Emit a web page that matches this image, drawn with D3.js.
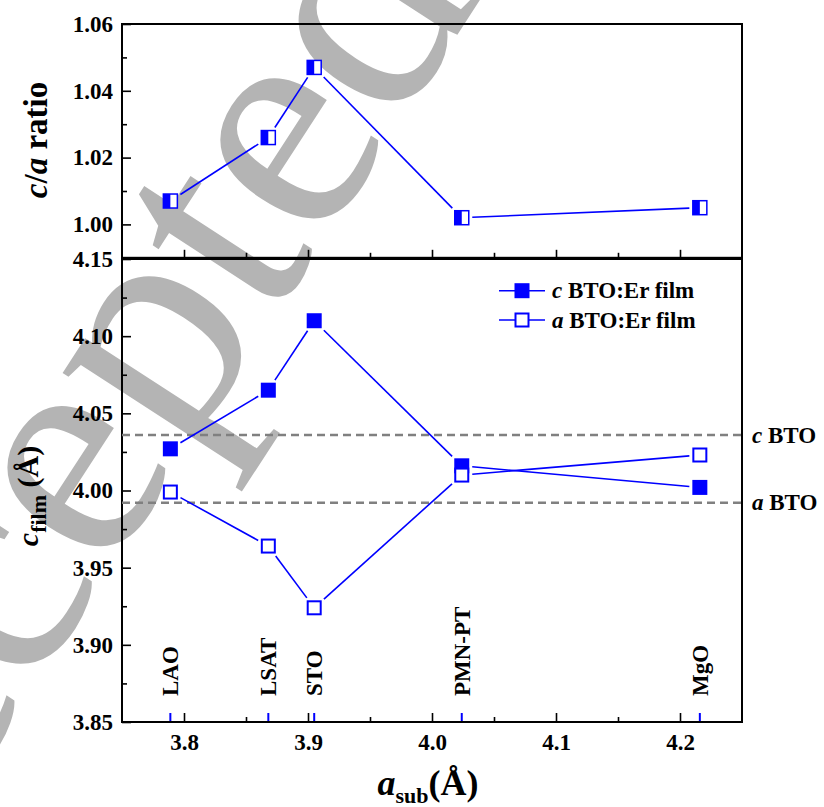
<!DOCTYPE html>
<html>
<head>
<meta charset="utf-8">
<script src="https://d3js.org/d3.v7.min.js"></script>
<style>
  body { margin: 0; background: #fff; }
  svg text { font-family: "Liberation Serif", "Times New Roman", Times, serif; font-weight: bold; }
</style>
</head>
<body>
<script>
// substrates and their in-plane lattice parameter (Å)
var substrates = ["LAO", "LSAT", "STO", "PMN-PT", "MgO"];
var aSub = [3.789, 3.868, 3.905, 4.024, 4.216];

// film lattice parameters (Å) and c/a ratio
var cFilm = [4.027, 4.065, 4.110, 4.016, 4.002];
var aFilm = [3.999, 3.964, 3.924, 4.010, 4.023];
var caRatio = [1.007, 1.026, 1.047, 1.002, 1.005];

// bulk BTO reference lines
var bulkLabels = ["c", "a"];
var bulkValues = [4.036, 3.992];

var xTicks = [3.8, 3.9, 4.0, 4.1, 4.2];
var xMinor = [3.85, 3.95, 4.05, 4.15];
var topTicks = [1.00, 1.02, 1.04, 1.06];
var topMinor = [1.01, 1.03, 1.05];
var botTicks = [3.85, 3.90, 3.95, 4.00, 4.05, 4.10, 4.15];
var botMinor = [3.875, 3.925, 3.975, 4.025, 4.075, 4.125];

var W = 824, H = 807;
var blue = "#0000ff";

var svg = d3.select("body").append("svg")
    .attr("width", W)
    .attr("height", H)
    .attr("font-family", "Liberation Serif, Times New Roman, serif");

// watermark of the source page
svg.append("text")
    .attr("transform", "translate(-176,1010) rotate(-57)")
    .style("font-weight", "normal")
    .attr("font-size", 320)
    .attr("fill", "#b4b4b4")
    .text("Accepted Manuscript");

var x = d3.scaleLinear().domain([3.75, 4.25]).range([122, 742]);
var yTop = d3.scaleLinear().domain([0.99, 1.06]).range([257.8, 24]);
var yBot = d3.scaleLinear().domain([3.85, 4.15]).range([722, 259]);

function styleAxis(g) {
  g.attr("font-family", null).attr("font-size", null);
  g.select(".domain").remove();
  g.selectAll("line").attr("stroke", "#000").attr("stroke-width", 1.6);
  g.selectAll("text").attr("font-size", 23).attr("fill", "#000");
}

// top panel axes
svg.append("g").attr("transform", "translate(122,0)")
  .call(d3.axisLeft(yTop).tickValues(topTicks).tickSize(-9).tickPadding(9).tickFormat(d3.format(".2f")))
  .call(styleAxis);
svg.append("g").attr("transform", "translate(122,0)")
  .call(d3.axisLeft(yTop).tickValues(topMinor).tickSize(-5).tickFormat(""))
  .call(styleAxis);
svg.append("g").attr("transform", "translate(0,257.8)")
  .call(d3.axisBottom(x).tickValues(xTicks).tickSize(-8).tickFormat(""))
  .call(styleAxis);
svg.append("g").attr("transform", "translate(0,257.8)")
  .call(d3.axisBottom(x).tickValues(xMinor).tickSize(-5).tickFormat(""))
  .call(styleAxis);

// bottom panel axes
svg.append("g").attr("transform", "translate(122,0)")
  .call(d3.axisLeft(yBot).tickValues(botTicks).tickSize(-9).tickPadding(9).tickFormat(d3.format(".2f")))
  .call(styleAxis);
svg.append("g").attr("transform", "translate(122,0)")
  .call(d3.axisLeft(yBot).tickValues(botMinor).tickSize(-5).tickFormat(""))
  .call(styleAxis);
svg.append("g").attr("transform", "translate(0,722)")
  .call(d3.axisBottom(x).tickValues(xTicks).tickSize(-9).tickPadding(12).tickFormat(d3.format(".1f")))
  .call(styleAxis);
svg.append("g").attr("transform", "translate(0,722)")
  .call(d3.axisBottom(x).tickValues(xMinor).tickSize(-5).tickFormat(""))
  .call(styleAxis);

// blue substrate ticks
svg.selectAll("line.sub").data(aSub).enter().append("line")
    .attr("x1", function (d) { return x(d); })
    .attr("x2", function (d) { return x(d); })
    .attr("y1", yBot(3.85)).attr("y2", yBot(3.85) - 9)
    .attr("stroke", blue).attr("stroke-width", 2);

// frames
svg.append("rect").attr("x", 122).attr("y", 24).attr("width", 620).attr("height", 257.8 - 24)
    .attr("fill", "none").attr("stroke", "#000").attr("stroke-width", 2);
svg.append("rect").attr("x", 122).attr("y", 259).attr("width", 620).attr("height", 722 - 259)
    .attr("fill", "none").attr("stroke", "#000").attr("stroke-width", 2);

// bulk BTO dashed lines
bulkValues.forEach(function (v, i) {
  svg.append("line")
      .attr("x1", x(3.75)).attr("x2", x(4.25))
      .attr("y1", yBot(v)).attr("y2", yBot(v))
      .attr("stroke", "#808080").attr("stroke-width", 2.5)
      .attr("stroke-dasharray", "8,5");
  var t = svg.append("text")
      .attr("x", 752).attr("y", yBot(v))
      .attr("dy", "0.33em")
      .attr("font-size", 23);
  t.append("tspan").style("font-style", "italic").text(bulkLabels[i]);
  t.append("tspan").text(" BTO");
});

// lines with small gaps at the markers (Origin style)
function gappedLine(xs, ys, sx, sy, gap) {
  for (var i = 0; i < xs.length - 1; i++) {
    var x1 = sx(xs[i]), y1 = sy(ys[i]), x2 = sx(xs[i + 1]), y2 = sy(ys[i + 1]);
    var dx = x2 - x1, dy = y2 - y1, len = Math.sqrt(dx * dx + dy * dy);
    var ux = dx / len, uy = dy / len;
    // distance from center to square edge along the direction
    var edge = 7.5 / Math.max(Math.abs(ux), Math.abs(uy));
    var g = edge + gap;
    if (len <= 2 * g) continue;
    svg.append("line")
        .attr("x1", x1 + ux * g).attr("y1", y1 + uy * g)
        .attr("x2", x2 - ux * g).attr("y2", y2 - uy * g)
        .attr("stroke", blue).attr("stroke-width", 1.6);
  }
}

gappedLine(aSub, caRatio, x, yTop, 3);
gappedLine(aSub, cFilm, x, yBot, 3);
gappedLine(aSub, aFilm, x, yBot, 3);

function filledSquare(g, cx, cy) {
  g.append("rect").attr("x", cx - 7.5).attr("y", cy - 7.5).attr("width", 15).attr("height", 15)
      .attr("fill", blue);
}
function openSquare(g, cx, cy) {
  g.append("rect").attr("x", cx - 6.5).attr("y", cy - 6.5).attr("width", 13).attr("height", 13)
      .attr("fill", "#fff").attr("stroke", blue).attr("stroke-width", 2);
}
function halfSquare(g, cx, cy) {
  g.append("rect").attr("x", cx - 7).attr("y", cy - 7).attr("width", 14).attr("height", 14)
      .attr("fill", "#fff").attr("stroke", blue).attr("stroke-width", 1.5);
  g.append("rect").attr("x", cx - 7).attr("y", cy - 7).attr("width", 7).attr("height", 14)
      .attr("fill", blue);
}

var marks = svg.append("g");
aSub.forEach(function (a, i) {
  halfSquare(marks, x(a), yTop(caRatio[i]));
  filledSquare(marks, x(a), yBot(cFilm[i]));
  openSquare(marks, x(a), yBot(aFilm[i]));
});

// substrate labels
svg.selectAll("text.sublabel").data(substrates).enter().append("text")
    .attr("class", "sublabel")
    .attr("transform", function (d, i) { return "translate(" + x(aSub[i]) + ",696) rotate(-90)"; })
    .attr("dy", "0.35em")
    .attr("font-size", 23)
    .text(function (d) { return d; });

// legend
var legendRows = [{ lab: "c", y: 290.7, fill: true }, { lab: "a", y: 320, fill: false }];
legendRows.forEach(function (r) {
  svg.append("line").attr("x1", 499).attr("x2", 545).attr("y1", r.y).attr("y2", r.y)
      .attr("stroke", blue).attr("stroke-width", 1.6);
  if (r.fill) filledSquare(svg, 522, r.y); else openSquare(svg, 522, r.y);
  var t = svg.append("text").attr("x", 552).attr("y", r.y).attr("dy", "0.33em").attr("font-size", 23);
  t.append("tspan").style("font-style", "italic").text(r.lab);
  t.append("tspan").text(" BTO:Er film");
});

// axis titles
var t1 = svg.append("text")
    .attr("transform", "translate(47,140) rotate(-90)")
    .attr("text-anchor", "middle")
    .attr("font-size", 33);
t1.append("tspan").style("font-style", "italic").text("c");
t1.append("tspan").text("/");
t1.append("tspan").style("font-style", "italic").text("a");
t1.append("tspan").text(" ratio");

var t2 = svg.append("text")
    .attr("transform", "translate(38,496) rotate(-90)")
    .attr("text-anchor", "middle")
    .attr("font-size", 30);
t2.append("tspan").style("font-style", "italic").text("c");
t2.append("tspan").attr("font-size", 22).attr("dy", 8).text("film");
t2.append("tspan").attr("dy", -8).text(" (Å)");

var t3 = svg.append("text")
    .attr("x", 428).attr("y", 795)
    .attr("text-anchor", "middle")
    .attr("font-size", 36);
t3.append("tspan").style("font-style", "italic").text("a");
t3.append("tspan").attr("font-size", 22).attr("dy", 8).text("sub");
t3.append("tspan").attr("dy", -8).text("(Å)");
</script>
</body>
</html>
